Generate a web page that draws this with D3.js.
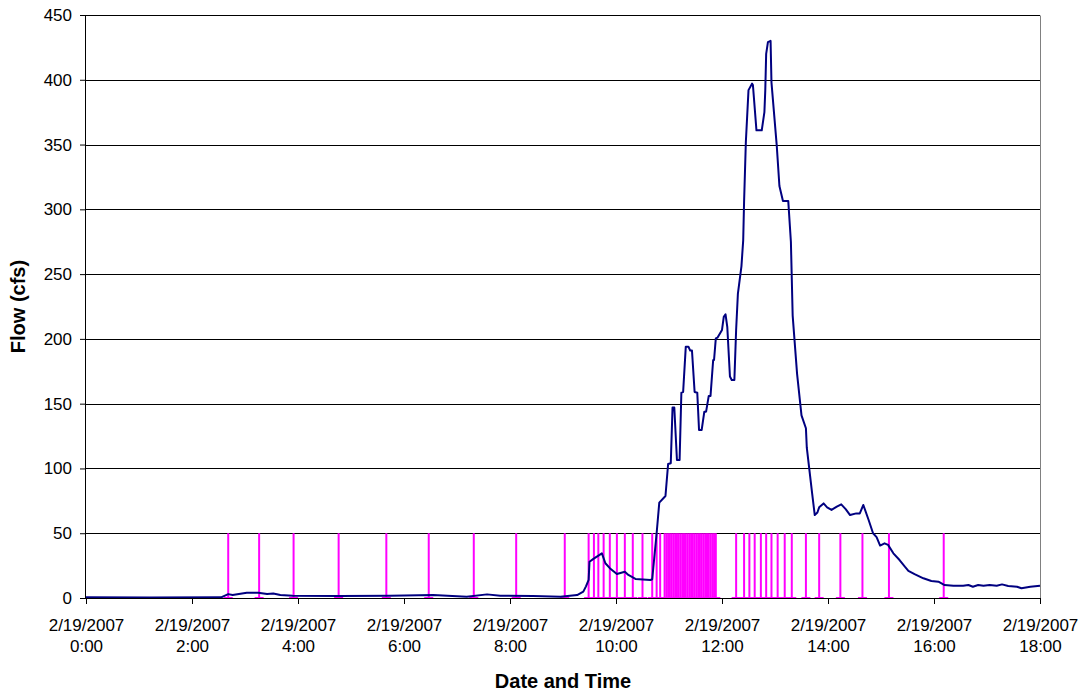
<!DOCTYPE html>
<html>
<head>
<meta charset="utf-8">
<script src="https://cdn.jsdelivr.net/npm/d3@7"></script>
<style>
    body { margin: 0; background: #fff; }
    svg { font-family: "Liberation Sans", Arial, sans-serif; }
</style>
</head>
<body>
<div id="chart"></div>
<script>
// Flow record, 2/19/2007 (time of day, cfs)
const flowTimes = ["0:00", "1:12", "2:33", "2:41", "2:46", "3:02", "3:15", "3:25", "3:32", "3:40", "3:54",
    "4:48", "5:44", "6:33", "7:11", "7:34", "7:49", "8:26", "8:57", "9:16", "9:23", "9:26", "9:29", "9:30",
    "9:34", "9:44", "9:48", "9:53", "10:01", "10:10", "10:14", "10:22", "10:39", "10:41", "10:46", "10:49",
    "10:56", "10:59", "11:02", "11:04", "11:06", "11:09", "11:12", "11:14", "11:16", "11:19", "11:22", "11:24",
    "11:26", "11:29", "11:32", "11:34", "11:37", "11:40", "11:42", "11:45", "11:47", "11:50", "11:51", "11:53",
    "11:55", "12:00", "12:02", "12:04", "12:06", "12:09", "12:11", "12:14", "12:16", "12:18", "12:22", "12:24",
    "12:25", "12:27", "12:30", "12:34", "12:35", "12:39", "12:45", "12:48", "12:49", "12:50", "12:52", "12:55",
    "12:56", "13:02", "13:05", "13:09", "13:15", "13:18", "13:20", "13:25", "13:30", "13:35", "13:36", "13:42",
    "13:45", "13:48", "13:50", "13:55", "13:59", "14:04", "14:10", "14:15", "14:20", "14:25", "14:32", "14:36",
    "14:40", "14:46", "14:51", "14:55", "14:59", "15:04", "15:08", "15:14", "15:21", "15:27", "15:31", "15:38",
    "15:48", "15:57", "16:05", "16:12", "16:22", "16:33", "16:39", "16:44", "16:50", "16:56", "17:03", "17:11",
    "17:17", "17:24", "17:34", "17:39", "17:49", "18:00"];
const flowValues = [0.5, 0.4, 0.5, 3, 2.3, 4.1, 4.1, 3.1, 3.5, 2.3, 1.8,
    1.6, 1.8, 2.3, 1.0, 2.8, 1.8, 1.6, 1.0, 2.3, 4.9, 9, 14, 28,
    30, 34.5, 26.8, 23, 18.5, 20.3, 17.8, 14.7, 13.9, 14.5, 50, 73.6,
    78.7, 103.4, 104, 147, 147, 106.5, 106.5, 158.5, 159, 194, 194, 191,
    191, 159, 158.5, 129.7, 129.7, 143.8, 143.8, 156, 156, 183.7, 183.7, 200.4,
    201, 206.9, 217, 219, 209, 171, 168.3, 168.3, 207, 235, 256, 276,
    306, 352, 392, 397, 396, 361, 361, 375, 392, 420, 429, 430,
    398, 349, 318, 306.5, 306.5, 275, 218, 173, 141, 131, 116, 81,
    64, 66, 70, 73, 70, 68, 70.6, 72.3, 68.6, 64, 65.3, 65.3,
    71.8, 60.2, 50, 47, 40.5, 42.2, 41, 34.5, 29.3, 24.2, 21, 18.5,
    15.2, 13.1, 12.6, 10, 9.5, 9.5, 10, 8.7, 10, 9.5, 10, 9.5,
    10.5, 9.3, 8.7, 7.5, 8.7, 9.5];

// Rain gauge tips (drawn as bars from 0 up to rainMarkValue)
const rainTimes = ["2:41", "3:16", "3:55", "4:46", "5:40", "6:28", "7:19", "8:07", "9:02", "9:29",
    "9:35", "9:40", "9:46", "9:53", "10:01", "10:10", "10:19", "10:30", "10:41", "10:46", "10:50",
    "10:55", "10:57", "10:59", "11:01", "11:03", "11:05", "11:07", "11:09", "11:11", "11:13",
    "11:15", "11:17", "11:19", "11:21", "11:23", "11:25", "11:27", "11:29", "11:31", "11:33",
    "11:35", "11:37", "11:39", "11:41", "11:43", "11:45", "11:47", "11:49", "11:51", "11:53",
    "12:16", "12:25", "12:31", "12:37", "12:44", "12:50", "12:56", "13:03", "13:11", "13:19",
    "13:35", "13:50", "14:14", "14:39", "15:09", "16:11"];
const rainMarkValue = 50;

const yTicks = [0, 50, 100, 150, 200, 250, 300, 350, 400, 450];
const xTickTimes = ["0:00", "2:00", "4:00", "6:00", "8:00", "10:00", "12:00", "14:00", "16:00", "18:00"];
const dateLabel = "2/19/2007";

// Dimensions
const W = 1085, H = 694;
const margin = { top: 15, right: 45, bottom: 96, left: 86 };
const width = W - margin.left - margin.right;
const height = H - margin.top - margin.bottom;

const parseTime = d3.timeParse("%m/%d/%Y %H:%M");
const toDate = t => parseTime(dateLabel + " " + t);

const flowData = flowTimes.map((t, i) => ({ time: toDate(t), value: flowValues[i] }));
const rainData = rainTimes.map(t => ({ time: toDate(t), value: rainMarkValue }));

const svg = d3.select('#chart')
    .append('svg')
    .attr('width', W)
    .attr('height', H)
    .append('g')
    .attr('transform', `translate(${margin.left}, ${margin.top})`);

const xScale = d3.scaleTime()
    .domain([toDate("0:00"), toDate("18:00")])
    .range([0, width]);
const yScale = d3.scaleLinear()
    .domain([0, 450])
    .range([height, 0]);

// Gridlines
svg.append('g')
    .attr('class', 'grid')
    .selectAll('line')
    .data(yTicks.filter(d => d > 0))
    .enter()
    .append('line')
    .attr('x1', 0)
    .attr('x2', width)
    .attr('y1', d => Math.round(yScale(d)) + 0.5)
    .attr('y2', d => Math.round(yScale(d)) + 0.5)
    .attr('stroke', '#000')
    .attr('stroke-width', 1);

// right border of plot area
svg.append('line')
    .attr('x1', width + 0.5).attr('x2', width + 0.5)
    .attr('y1', 0.5).attr('y2', height)
    .attr('stroke', '#808080');

// Rain tips
const rain = svg.append('g').attr('class', 'rain');
rain.selectAll('.tip')
    .data(rainData)
    .enter()
    .append('line')
    .attr('class', 'tip')
    .attr('x1', d => xScale(d.time))
    .attr('x2', d => xScale(d.time))
    .attr('y1', d => yScale(d.value))
    .attr('y2', yScale(0))
    .attr('stroke', '#ff00ff')
    .attr('stroke-width', 2);
rain.selectAll('.cap')
    .data(rainData)
    .enter()
    .append('line')
    .attr('class', 'cap')
    .attr('x1', d => xScale(d.time) - 4.5)
    .attr('x2', d => xScale(d.time) + 4.5)
    .attr('y1', yScale(0))
    .attr('y2', yScale(0))
    .attr('stroke', '#ff00ff')
    .attr('stroke-width', 2);

// Flow line
const line = d3.line()
    .x(d => xScale(d.time))
    .y(d => yScale(d.value));

svg.append('path')
    .datum(flowData)
    .attr('fill', 'none')
    .attr('stroke', '#000080')
    .attr('stroke-width', 2)
    .attr('stroke-linejoin', 'round')
    .attr('d', line);

// Axes
const yAxis = d3.axisLeft(yScale)
    .tickValues(yTicks)
    .tickSize(6)
    .tickPadding(8);
const xAxis = d3.axisBottom(xScale)
    .tickValues(xTickTimes.map(toDate))
    .tickSize(6)
    .tickPadding(14)
    .tickFormat(d => d3.timeFormat("%-H:%M")(d));

const gy = svg.append('g')
    .attr('class', 'y-axis')
    .call(yAxis);
const gx = svg.append('g')
    .attr('class', 'x-axis')
    .attr('transform', `translate(0, ${height})`)
    .call(xAxis);

[gx, gy].forEach(g => {
    g.select('.domain').attr('stroke', '#000').attr('stroke-width', 1);
    g.selectAll('.tick line').attr('stroke', '#000');
    g.selectAll('.tick text')
        .attr('fill', '#000')
        .style('font-size', '17px');
});
gy.select('.domain').attr('d', `M-0.5,${height}V0`);
gx.select('.domain').attr('d', `M0,0.5H${width}`);

// two-line date labels
gx.selectAll('.tick text').each(function (d) {
    const t = d3.select(this);
    const tm = d3.timeFormat("%-H:%M")(d);
    t.text(null);
    t.append('tspan').attr('x', 0).attr('y', 33).text(dateLabel);
    t.append('tspan').attr('x', 0).attr('y', 54).text(tm);
}).attr('dy', null);

// Axis titles
svg.append('text')
    .attr('x', width / 2)
    .attr('y', height + 90)
    .attr('text-anchor', 'middle')
    .attr('font-weight', 'bold')
    .style('font-size', '20px')
    .text('Date and Time');

svg.append('text')
    .attr('transform', `translate(${-margin.left + 25}, ${height / 2}) rotate(-90)`)
    .attr('text-anchor', 'middle')
    .attr('font-weight', 'bold')
    .style('font-size', '20px')
    .text('Flow (cfs)');
</script>
</body>
</html>
